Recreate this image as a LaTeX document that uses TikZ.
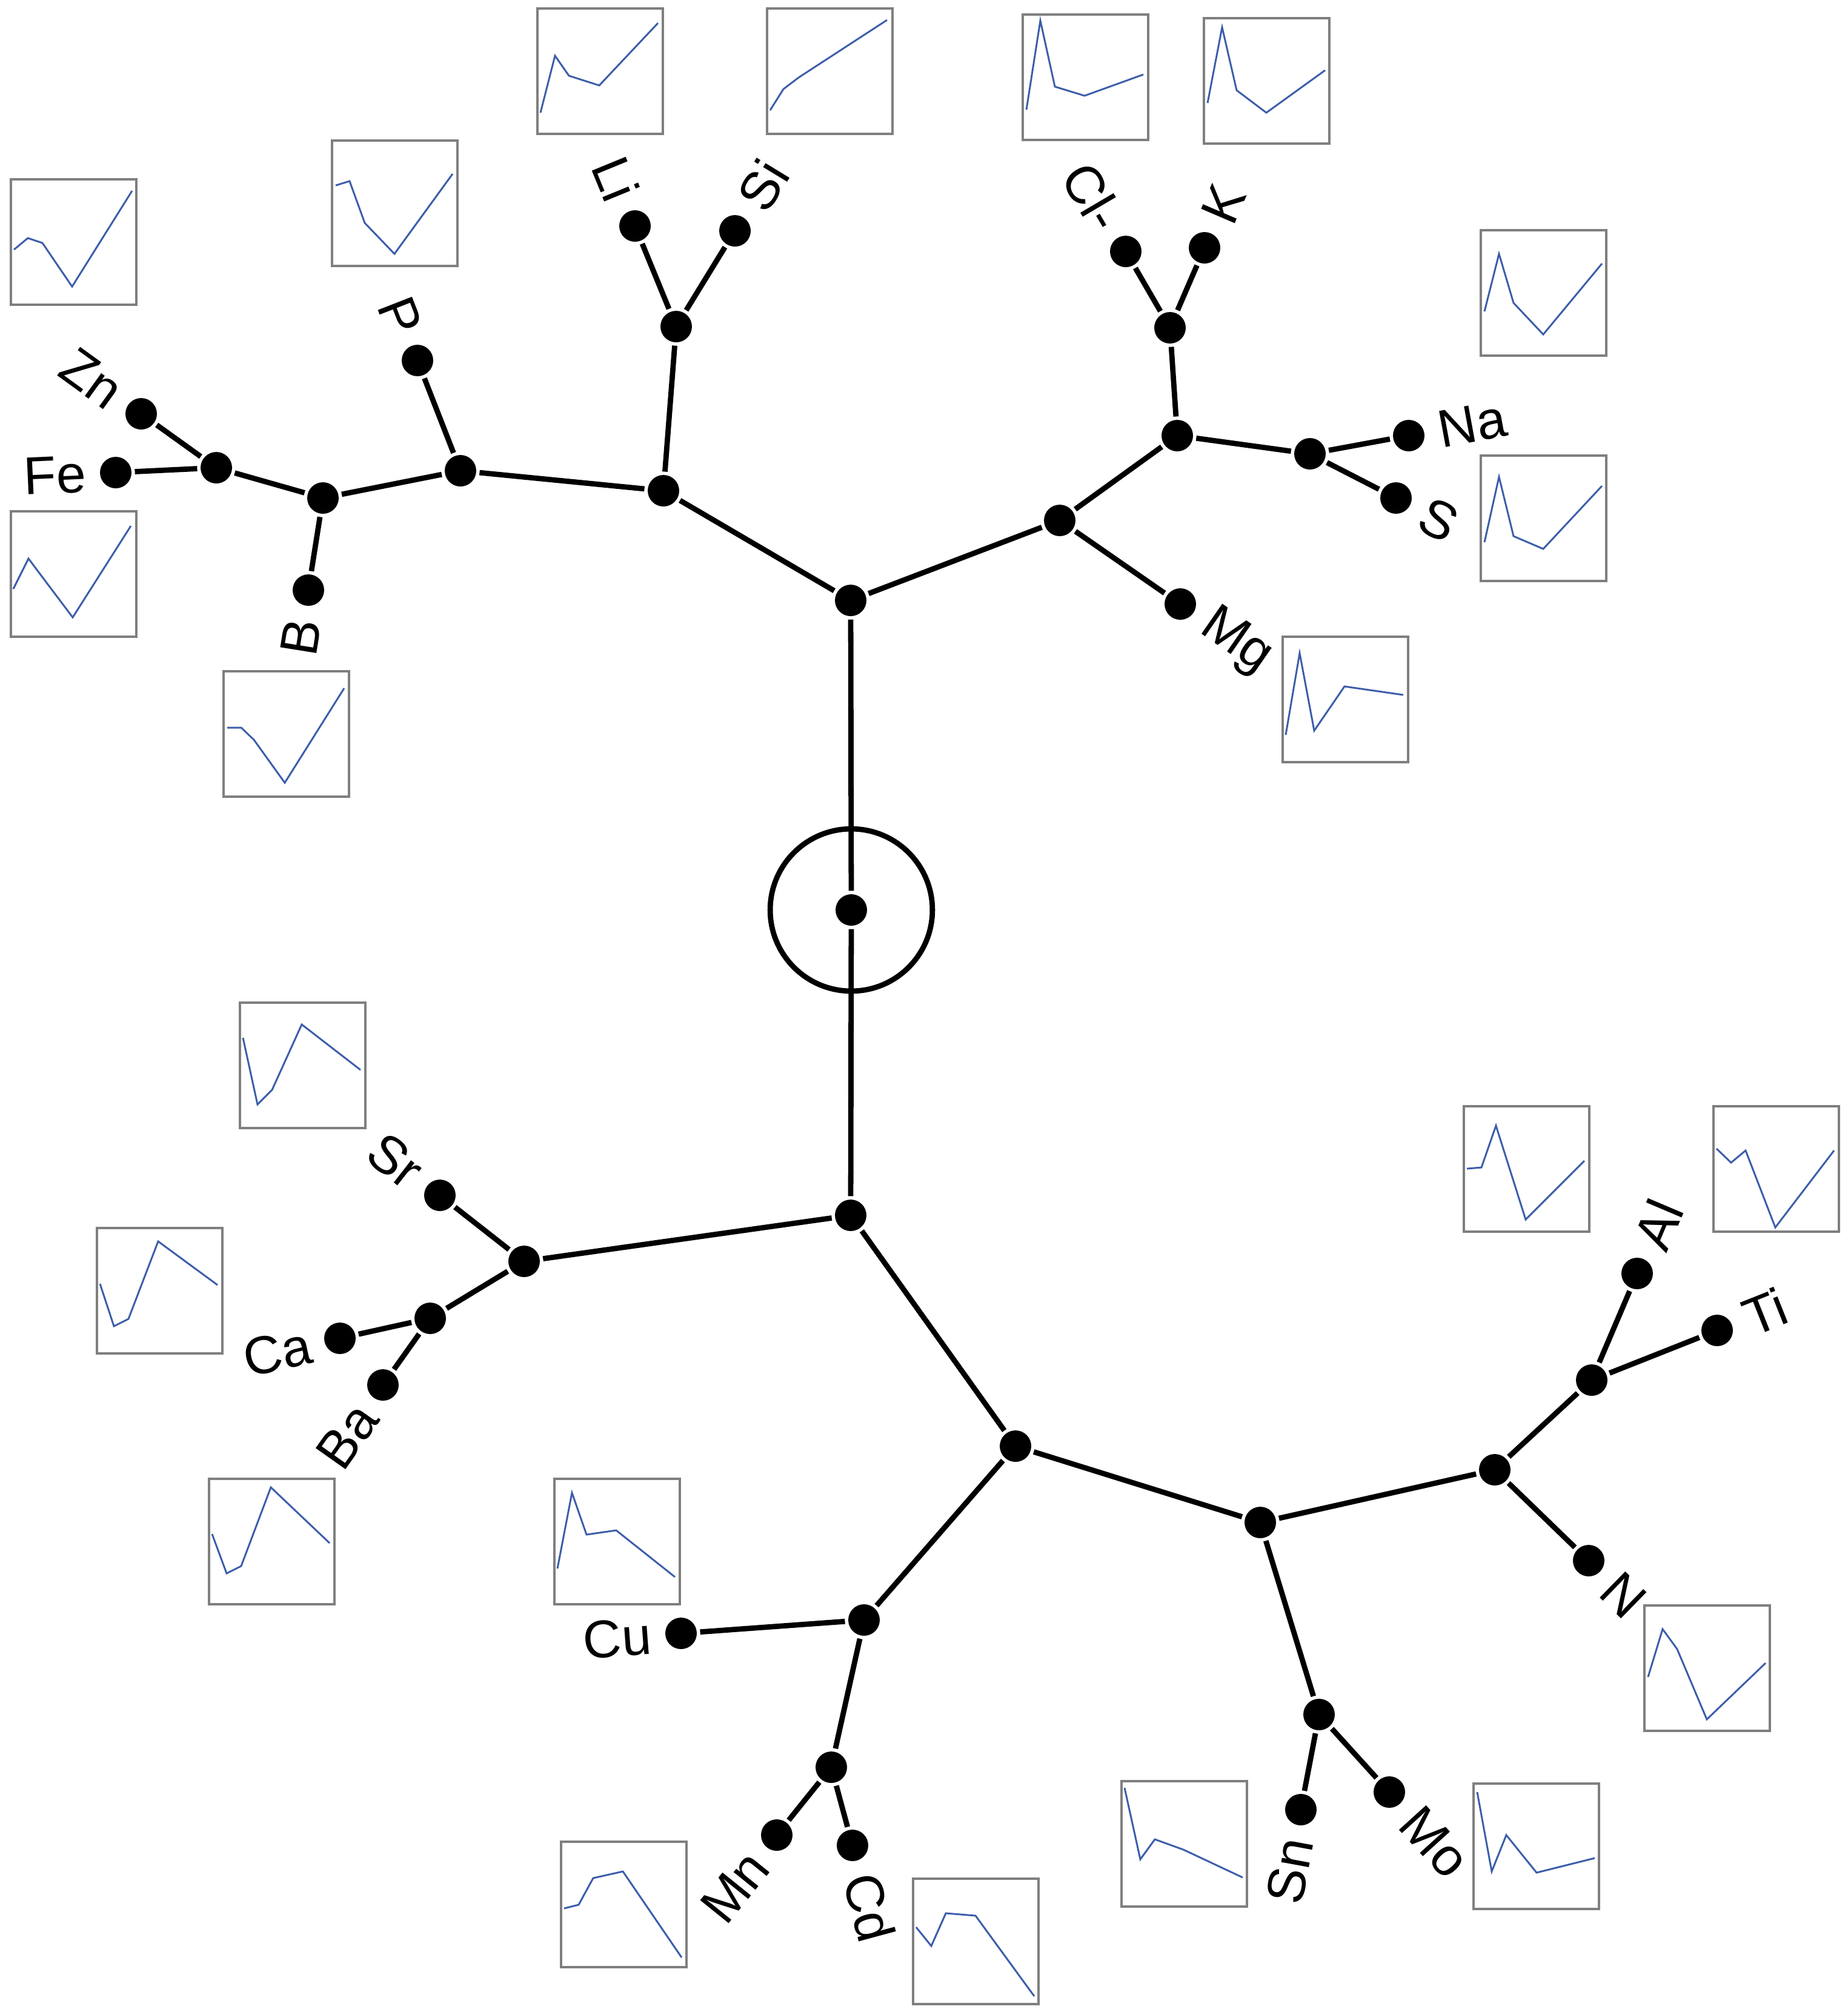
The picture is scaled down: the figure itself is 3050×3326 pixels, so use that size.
\documentclass[tikz,border=0pt]{standalone}
\usepackage{fontspec}
\setmainfont{Liberation Sans}
\definecolor{boxgray}{HTML}{7F7F7F}
\definecolor{sparkblue}{HTML}{3C5DAA}

\begin{document}
\begin{tikzpicture}[x=0.005cm, y=-0.005cm,
    dot/.style={circle, fill=black, inner sep=0pt, minimum size=0.26cm, outer sep=0.8pt},
    branch/.style={line width=1.25pt},
    lab/.style={inner sep=0pt, font=\fontsize{12.5}{15}\selectfont},
    sbox/.style={draw=boxgray, line width=0.55pt},
    spark/.style={draw=sparkblue, line width=0.42pt}]
      \useasboundingbox (0,0) rectangle (3050,3326);

      % root with its ring
      \node[dot] (root) at (1405,1502) {};
      \draw[branch] (root) circle [radius=0.67cm];

      % inner joints
      \node[dot] (top) at (1404,991) {};
      \node[dot] (bot) at (1404,2006) {};

      % upper left clade
      \node[dot] (jLiSi) at (1095,810) {};
      \node[dot] (jLi) at (1116,539) {};
      \node[dot] (jP) at (760,777) {};
      \node[dot] (jB) at (533,822) {};
      \node[dot] (jFe) at (357,772) {};
      \node[dot] (Li) at (1048,373) {};
      \node[dot] (Si) at (1213,381) {};
      \node[dot] (P) at (689,595) {};
      \node[dot] (B) at (509,974) {};
      \node[dot] (Fe) at (191,780) {};
      \node[dot] (Zn) at (233,683) {};

      % upper right clade
      \node[dot] (jMg) at (1749,859) {};
      \node[dot] (jRight) at (1943,719) {};
      \node[dot] (jCl) at (1931,541) {};
      \node[dot] (jNa) at (2162,749) {};
      \node[dot] (Mg) at (1948,997) {};
      \node[dot] (Cl) at (1858,415) {};
      \node[dot] (K) at (1988,409) {};
      \node[dot] (Na) at (2325,719) {};
      \node[dot] (S) at (2304,822) {};

      % lower left clade
      \node[dot] (jSr) at (865,2082) {};
      \node[dot] (jCa) at (710,2176) {};
      \node[dot] (Sr) at (726,1973) {};
      \node[dot] (Ca) at (561,2209) {};
      \node[dot] (Ba) at (632,2286) {};

      % lower right clade
      \node[dot] (jLow) at (1676,2387) {};
      \node[dot] (jCu) at (1426,2674) {};
      \node[dot] (jMn) at (1372,2917) {};
      \node[dot] (jMid) at (2080,2513) {};
      \node[dot] (jSn) at (2177,2830) {};
      \node[dot] (jN) at (2467,2426) {};
      \node[dot] (jAl) at (2627,2278) {};
      \node[dot] (Cu) at (1124,2696) {};
      \node[dot] (Mn) at (1282,3029) {};
      \node[dot] (Cd) at (1407,3046) {};
      \node[dot] (Sn) at (2147,2987) {};
      \node[dot] (Mo) at (2293,2958) {};
      \node[dot] (N) at (2622,2576) {};
      \node[dot] (Al) at (2702,2102) {};
      \node[dot] (Ti) at (2834,2196) {};

      % branches
      \draw[branch] (root) -- (top);
      \draw[branch] (root) -- (bot);
      \draw[branch] (top) -- (jLiSi);
      \draw[branch] (jLiSi) -- (jLi);
      \draw[branch] (jLi) -- (Li);
      \draw[branch] (jLi) -- (Si);
      \draw[branch] (jLiSi) -- (jP);
      \draw[branch] (jP) -- (P);
      \draw[branch] (jP) -- (jB);
      \draw[branch] (jB) -- (B);
      \draw[branch] (jB) -- (jFe);
      \draw[branch] (jFe) -- (Fe);
      \draw[branch] (jFe) -- (Zn);

      \draw[branch] (top) -- (jMg);
      \draw[branch] (jMg) -- (Mg);
      \draw[branch] (jMg) -- (jRight);
      \draw[branch] (jRight) -- (jCl);
      \draw[branch] (jCl) -- (Cl);
      \draw[branch] (jCl) -- (K);
      \draw[branch] (jRight) -- (jNa);
      \draw[branch] (jNa) -- (Na);
      \draw[branch] (jNa) -- (S);

      \draw[branch] (bot) -- (jSr);
      \draw[branch] (jSr) -- (Sr);
      \draw[branch] (jSr) -- (jCa);
      \draw[branch] (jCa) -- (Ca);
      \draw[branch] (jCa) -- (Ba);

      \draw[branch] (bot) -- (jLow);
      \draw[branch] (jLow) -- (jCu);
      \draw[branch] (jCu) -- (Cu);
      \draw[branch] (jCu) -- (jMn);
      \draw[branch] (jMn) -- (Mn);
      \draw[branch] (jMn) -- (Cd);
      \draw[branch] (jLow) -- (jMid);
      \draw[branch] (jMid) -- (jSn);
      \draw[branch] (jSn) -- (Sn);
      \draw[branch] (jSn) -- (Mo);
      \draw[branch] (jMid) -- (jN);
      \draw[branch] (jN) -- (N);
      \draw[branch] (jN) -- (jAl);
      \draw[branch] (jAl) -- (Al);
      \draw[branch] (jAl) -- (Ti);

      % leaf labels
      \node[lab, anchor=east, rotate=2.6] (lFe) at (143,782) {Fe};
      \node[lab, anchor=east, rotate=-35.9] (lZn) at (194,655) {Zn};
      \node[lab, anchor=east, rotate=80.9] (lB) at (501,1021) {B};
      \node[lab, anchor=east, rotate=-68.7] (lP) at (671,550) {P};
      \node[lab, anchor=east, rotate=-67.7] (lLi) at (1030,328) {Li};
      \node[lab, anchor=west, rotate=58.6] (lSi) at (1238,340) {Si};
      \node[lab, anchor=east, rotate=-59.5] (lCl) at (1833,374) {Cl-};
      \node[lab, anchor=west, rotate=66.8] (lK) at (2007,365) {K};
      \node[lab, anchor=west, rotate=10.4] (lNa) at (2373,710) {Na};
      \node[lab, anchor=west, rotate=-27.3] (lS) at (2347,844) {S};
      \node[lab, anchor=west, rotate=-34.7] (lMg) at (1988,1024) {Mg};
      \node[lab, anchor=east, rotate=-38.1] (lSr) at (688,1944) {Sr};
      \node[lab, anchor=east, rotate=12.5] (lCa) at (514,2219) {Ca};
      \node[lab, anchor=east, rotate=54.7] (lBa) at (605,2325) {Ba};
      \node[lab, anchor=east, rotate=4.2] (lCu) at (1076,2700) {Cu};
      \node[lab, anchor=east, rotate=51.1] (lMn) at (1252,3066) {Mn};
      \node[lab, anchor=west, rotate=-74.9] (lCd) at (1420,3093) {Cd};
      \node[lab, anchor=east, rotate=79.5] (lSn) at (2139,3034) {Sn};
      \node[lab, anchor=west, rotate=-47.8] (lMo) at (2326,2994) {Mo};
      \node[lab, anchor=west, rotate=-44.3] (lN) at (2656,2610) {N};
      \node[lab, anchor=west, rotate=67.0] (lAl) at (2721,2058) {Al};
      \node[lab, anchor=west, rotate=21.7] (lTi) at (2879,2178) {Ti};

      % profile boxes, top left corner first
      \draw[sbox] (18,296) rectangle +(207,207);
      \draw[spark, shift={(18,296)}] (5,116) -- (28,97) -- (52,105) -- (101,177) -- (200,19);
      \draw[sbox] (18,844) rectangle +(207,207);
      \draw[spark, shift={(18,844)}] (4,128) -- (29,78) -- (53,110) -- (102,175) -- (198,24);
      \draw[sbox] (548,232) rectangle +(207,207);
      \draw[spark, shift={(548,232)}] (6,74) -- (29,67) -- (54,136) -- (103,187) -- (199,55);
      \draw[sbox] (369,1108) rectangle +(207,207);
      \draw[spark, shift={(369,1108)}] (6,93) -- (29,93) -- (50,113) -- (101,184) -- (199,28);
      \draw[sbox] (887,14) rectangle +(207,207);
      \draw[spark, shift={(887,14)}] (5,172) -- (29,78) -- (52,111) -- (102,127) -- (199,24);
      \draw[sbox] (1266,14) rectangle +(207,207);
      \draw[spark, shift={(1266,14)}] (5,168) -- (27,133) -- (52,114) -- (198,19);
      \draw[sbox] (1688,24) rectangle +(207,207);
      \draw[spark, shift={(1688,24)}] (6,157) -- (29,10) -- (53,119) -- (102,134) -- (199,99);
      \draw[sbox] (1987,30) rectangle +(207,207);
      \draw[spark, shift={(1987,30)}] (6,140) -- (30,15) -- (54,119) -- (103,156) -- (200,86);
      \draw[sbox] (2444,380) rectangle +(207,207);
      \draw[spark, shift={(2444,380)}] (6,134) -- (30,39) -- (54,120) -- (103,172) -- (200,55);
      \draw[sbox] (2444,752) rectangle +(207,207);
      \draw[spark, shift={(2444,752)}] (6,143) -- (30,35) -- (54,133) -- (103,154) -- (200,50);
      \draw[sbox] (2117,1051) rectangle +(207,207);
      \draw[spark, shift={(2117,1051)}] (5,162) -- (28,27) -- (52,155) -- (102,82) -- (199,96);
      \draw[sbox] (396,1655) rectangle +(207,207);
      \draw[spark, shift={(396,1655)}] (5,58) -- (29,168) -- (53,144) -- (102,36) -- (199,111);
      \draw[sbox] (160,2027) rectangle +(207,207);
      \draw[spark, shift={(160,2027)}] (5,92) -- (28,162) -- (52,150) -- (101,22) -- (199,94);
      \draw[sbox] (345,2441) rectangle +(207,207);
      \draw[spark, shift={(345,2441)}] (5,91) -- (29,156) -- (53,144) -- (102,14) -- (199,106);
      \draw[sbox] (915,2441) rectangle +(207,207);
      \draw[spark, shift={(915,2441)}] (5,148) -- (29,23) -- (53,92) -- (102,85) -- (199,162);
      \draw[sbox] (926,3040) rectangle +(207,207);
      \draw[spark, shift={(926,3040)}] (5,110) -- (29,104) -- (53,60) -- (102,49) -- (199,191);
      \draw[sbox] (1507,3101) rectangle +(207,207);
      \draw[spark, shift={(1507,3101)}] (5,80) -- (30,111) -- (54,57) -- (103,61) -- (200,194);
      \draw[sbox] (1851,2940) rectangle +(207,207);
      \draw[spark, shift={(1851,2940)}] (5,11) -- (31,129) -- (55,96) -- (102,113) -- (200,159);
      \draw[sbox] (2432,2944) rectangle +(207,207);
      \draw[spark, shift={(2432,2944)}] (6,14) -- (30,145) -- (54,85) -- (104,147) -- (200,123);
      \draw[sbox] (2714,2650) rectangle +(207,207);
      \draw[spark, shift={(2714,2650)}] (6,118) -- (30,39) -- (54,72) -- (103,188) -- (200,95);
      \draw[sbox] (2416,1826) rectangle +(207,207);
      \draw[spark, shift={(2416,1826)}] (5,103) -- (29,101) -- (53,32) -- (102,187) -- (199,90);
      \draw[sbox] (2828,1826) rectangle +(207,207);
      \draw[spark, shift={(2828,1826)}] (5,70) -- (29,93) -- (53,73) -- (102,200) -- (199,73);
\end{tikzpicture}
\end{document}
